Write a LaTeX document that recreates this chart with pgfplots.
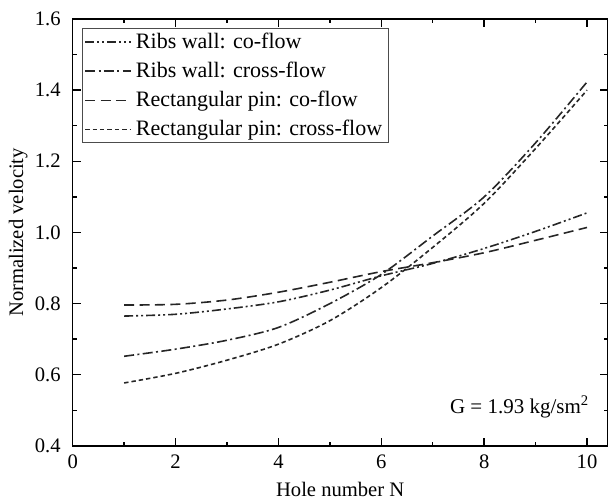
\documentclass[border=0pt]{standalone}
\usepackage{pgfplots}
\pgfplotsset{compat=1.18}
\usepackage{fontspec}
\setmainfont{Liberation Serif}
\begin{document}
\begin{tikzpicture}
\begin{axis}[
  name=ax,
  scale only axis,
  width=267.5pt, height=213.5pt,
  xmin=0, xmax=10.4, ymin=0.4, ymax=1.6,
  xtick={0,2,4,6,8,10}, minor xtick={1,3,5,7,9},
  ytick={0.4,0.6,...,1.61}, minor ytick={0.5,0.7,...,1.51},
  yticklabel style={/pgf/number format/fixed,/pgf/number format/fixed zerofill,/pgf/number format/precision=1, xshift=-2.5pt},
  xticklabel style={yshift=-1pt},
  /pgf/number format/assume math mode=true,
  tick align=inside,
  major tick length=4pt, minor tick length=2pt,
  every tick/.style={black, line width=0.7pt},
  axis line style={line width=0.75pt},
  tick label style={font=\fontsize{10.3}{12}\selectfont},
  label style={font=\fontsize{10.3}{12}\selectfont},
  xlabel={Hole number N},
  ylabel={Normalized velocity},
  xlabel style={at={(axis description cs:0.5,-0.103)}, anchor=center},
  ylabel style={at={(axis description cs:-0.102,0.5)}, anchor=center},
  legend style={at={(rel axis cs:0,1)}, anchor=north west, xshift=4.6pt, yshift=-4.7pt,
    font=\fontsize{11}{13}\selectfont, draw=black!70, line width=0.5pt,
    inner xsep=1pt, inner ysep=0pt, row sep=1.3pt},
  legend cell align=left,
  legend image code/.code={\draw[#1] (0pt,0pt) -- (23pt,0pt);},
  every axis plot/.append style={line width=0.8pt, black!85},
]
% Ribs wall: co-flow
\addplot[smooth, dash pattern=on 4.5pt off 1.5pt on 1pt off 1.5pt on 1pt off 1.5pt] coordinates {
(1,0.765) (2,0.770) (3,0.785) (4,0.805) (5,0.838) (6,0.878) (7,0.913) (8,0.955) (9,1.003) (10,1.055)};
\addlegendentry{Ribs wall: co-flow}
% Ribs wall: cross-flow
\addplot[smooth, dash pattern=on 5pt off 1.7pt on 1pt off 1.7pt] coordinates {
(1,0.652) (2,0.672) (3,0.697) (4,0.733) (5,0.800) (6,0.882) (7,0.990) (8,1.100) (9,1.252) (10,1.423)};
\addlegendentry{Ribs wall: cross-flow}
% Rectangular pin: co-flow
\addplot[smooth, dash pattern=on 5pt off 2.7pt] coordinates {
(1,0.796) (2,0.798) (3,0.810) (4,0.832) (5,0.860) (6,0.890) (7,0.915) (8,0.943) (9,0.978) (10,1.014)};
\addlegendentry{Rectangular pin: co-flow}
% Rectangular pin: cross-flow
\addplot[smooth, dash pattern=on 2.2pt off 1.5pt] coordinates {
(1,0.577) (2,0.604) (3,0.641) (4,0.686) (5,0.752) (6,0.845) (7,0.958) (8,1.082) (9,1.236) (10,1.400)};
\addlegendentry{Rectangular pin: cross-flow}
\node[anchor=east, font=\fontsize{10.5}{12}\selectfont, inner sep=0pt] at (axis cs:10.05,0.51) {G = 1.93 kg/sm$^{\mathrm{2}}$};
\end{axis}
\pgfresetboundingbox
\path ([xshift=-36.35pt,yshift=-27.5pt]ax.south west) rectangle ([xshift=0.7pt,yshift=9.5pt]ax.north east);
\end{tikzpicture}
\end{document}
